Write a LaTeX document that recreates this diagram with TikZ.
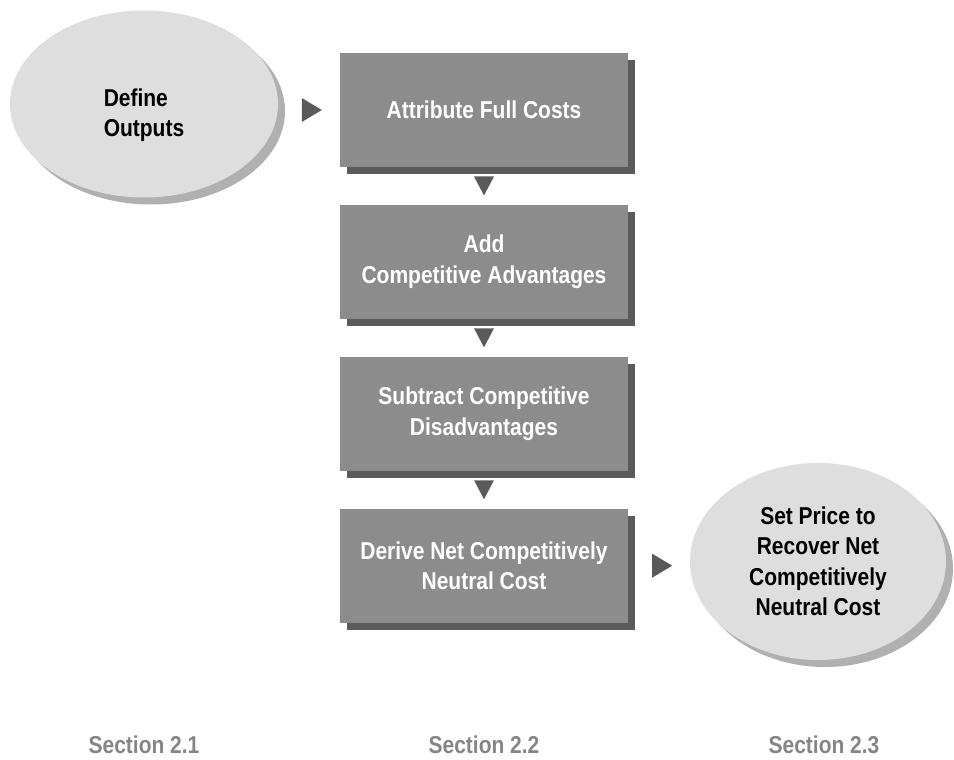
\documentclass[tikz,border=0pt]{standalone}
\usepackage{fontspec}
\setmainfont{Liberation Sans}[FakeStretch=0.86]
\usetikzlibrary{positioning,shadows,calc,shapes.geometric}

\definecolor{boxgray}{HTML}{8C8C8C}
\definecolor{boxshade}{HTML}{5A5A5A}
\definecolor{bubgray}{HTML}{DEDEDE}
\definecolor{bubshade}{HTML}{B0B0B0}
\definecolor{secgray}{HTML}{858585}

\tikzset{
  stepbox/.style={rectangle, fill=boxgray, text=white, inner sep=0pt,
    minimum width=288pt, minimum height=114pt, align=center,
    font=\bfseries\fontsize{24.4}{30.5}\selectfont,
    drop shadow={shadow xshift=7pt, shadow yshift=-7pt, fill=boxshade, opacity=1}},
  bubble/.style={ellipse, fill=bubgray, inner sep=0pt, align=center,
    font=\bfseries\fontsize{24.4}{30.5}\selectfont,
    drop shadow={shadow xshift=7pt, shadow yshift=-7pt, fill=bubshade, opacity=1}},
  seclabel/.style={text=secgray, anchor=base, font=\bfseries\fontsize{24.4}{30.5}\selectfont},
  tri/.style={fill=boxshade}
}

\begin{document}
\begin{tikzpicture}[x=1pt, y=-1pt]
  \useasboundingbox (0,0) rectangle (954,760);

  % outputs
  \node[bubble, minimum width=268pt, minimum height=187pt] (def) at (144,104) {};
  \node[align=left, font=\bfseries\fontsize{24.4}{30.5}\selectfont] (deftxt) at ([yshift=-11pt]def.center) {Define\\Outputs};

  % costing steps
  \node[stepbox] (full) at (484,110) {Attribute Full Costs};
  \node[stepbox, below=37.5pt of full] (adv) {Add\\Competitive Advantages};
  \node[stepbox, below=37.5pt of adv] (disadv) {Subtract Competitive\\Disadvantages};
  \node[stepbox, below=37.5pt of disadv] (net) {Derive Net Competitively\\Neutral Cost};

  % price
  \node[bubble, minimum width=256pt, minimum height=197pt] (price) at (818,561.5)
    {Set Price to\\Recover Net\\Competitively\\Neutral Cost};

  % arrow heads
  \fill[tri] ([xshift=-28pt]full.west) +(-10,-12) -- +(-10,12) -- +(10,0) -- cycle;
  \fill[tri] ($(full.south)!0.5!(adv.north)$) +(-10,-9.5) -- +(10,-9.5) -- +(0,9.5) -- cycle;
  \fill[tri] ($(adv.south)!0.5!(disadv.north)$) +(-10,-9.5) -- +(10,-9.5) -- +(0,9.5) -- cycle;
  \fill[tri] ($(disadv.south)!0.5!(net.north)$) +(-10,-9.5) -- +(10,-9.5) -- +(0,9.5) -- cycle;
  \fill[tri] ([xshift=34pt]net.east) +(-10,-12) -- +(-10,12) -- +(10,0) -- cycle;

  % sections
  \node[seclabel] (sec1) at (144,753) {Section 2.1};
  \node[seclabel] (sec2) at (484,753) {Section 2.2};
  \node[seclabel] (sec3) at (824,753) {Section 2.3};
\end{tikzpicture}
\end{document}
